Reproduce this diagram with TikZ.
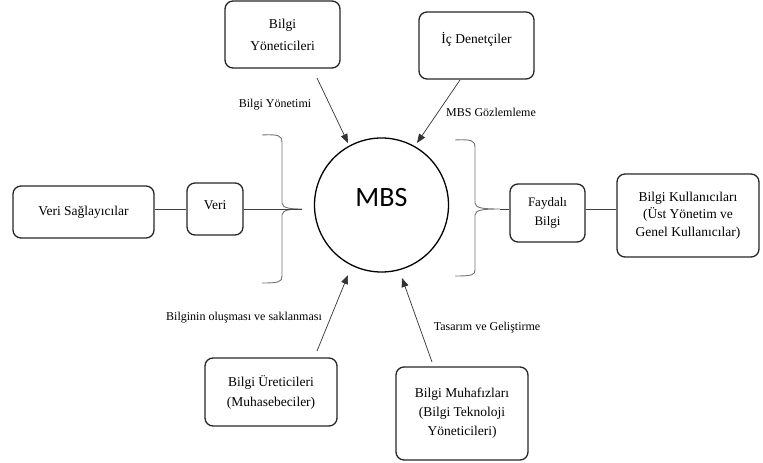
\documentclass[tikz,border=0pt]{standalone}
\usepackage{fontspec}
\setmainfont{Liberation Serif}
\newfontfamily\tnr{Liberation Serif}
\newfontfamily\mbsfont{Carlito}
\usetikzlibrary{arrows.meta}
\begin{document}
\begin{tikzpicture}[x=1pt,y=-1pt,
  box/.style={draw=black!85,line width=1.3pt,rounded corners=8pt,align=center,inner sep=0pt,
     font=\tnr\fontsize{13.5}{17}\selectfont},
  lbl/.style={font=\tnr\fontsize{12}{14}\selectfont,inner sep=0pt},
  arr/.style={line width=0.7pt,black!80,-{Triangle[length=9pt,width=7pt]}},
  brace/.style={line width=0.9pt,black!55},
  link/.style={line width=0.8pt,black!75}]
\useasboundingbox (0,0) rectangle (763,463);

% centre
\node[draw,circle,line width=1.3pt,minimum size=134pt,inner sep=0pt] (mbs) at (381.5,205) {};
\node[font=\mbsfont\fontsize{28}{30}\selectfont,inner sep=0pt] (mbst) at (381.5,197.5) {MBS};

% boxes
\node[box,minimum width=141pt,minimum height=52pt] (vs) at (83.5,212) {Veri Sağlayıcılar};
\node[box,minimum width=56pt,minimum height=52pt,text depth=8pt] (veri) at (215,209) {Veri};
\node[box,minimum width=75pt,minimum height=58pt,font=\tnr\fontsize{13}{19}\selectfont] (fb) at (547.5,213) {Faydalı\\Bilgi};
\node[box,minimum width=142pt,minimum height=83pt,font=\tnr\fontsize{13.5}{17.5}\selectfont] (bk) at (688,215.5) {Bilgi Kullanıcıları\\(Üst Yönetim ve\\Genel Kullanıcılar)};
\node[box,minimum width=115pt,minimum height=67pt,font=\tnr\fontsize{13.5}{22}\selectfont] (by) at (282.5,34.5) {Bilgi\\Yöneticileri};
\node[box,minimum width=115pt,minimum height=67pt,text depth=16pt] (id) at (476.5,45.5) {İç Denetçiler};
\node[box,minimum width=132pt,minimum height=68pt,font=\tnr\fontsize{13.5}{20}\selectfont] (bu) at (271,392) {Bilgi Üreticileri\\(Muhasebeciler)};
\node[box,minimum width=132pt,minimum height=93pt,font=\tnr\fontsize{13.5}{19}\selectfont] (bm) at (462,413.5) {Bilgi Muhafızları\\(Bilgi Teknoloji\\Yöneticileri)};

% braces
\coordinate (lbt) at (302,209);
\coordinate (rbt) at (500,209);
\draw[brace] (262,135) .. controls (279,134) and (282,136) .. (282,142) -- (282,203)
  .. controls (282,208.5) and (292,209) .. (lbt)
  .. controls (292,209) and (282,209.5) .. (282,215) -- (282,276)
  .. controls (282,282) and (279,283) .. (262,283);
\draw[brace] (455,140) .. controls (472,139) and (475,141) .. (475,147) -- (475,203)
  .. controls (475,208.5) and (485,209) .. (rbt)
  .. controls (485,209) and (475,209.5) .. (475,215) -- (475,270)
  .. controls (475,275) and (472,276) .. (455,276);

% links
\draw[link] (vs.east |- veri) -- (veri.west);
\draw[link] (veri.east) -- (lbt);
\draw[link] (rbt) -- (fb.west |- rbt);
\draw[link] (fb.east |- rbt) -- (bk.west |- rbt);

% arrows
\coordinate (a1s) at (317,78);  \coordinate (a1e) at (348,143);
\coordinate (a2s) at (460,80);  \coordinate (a2e) at (417,143);
\coordinate (a3s) at (317,351); \coordinate (a3e) at (348,275);
\coordinate (a4s) at (432,362); \coordinate (a4e) at (402,278);
\draw[arr] (a1s) -- (a1e);
\draw[arr] (a2s) -- (a2e);
\draw[arr] (a3s) -- (a3e);
\draw[arr] (a4s) -- (a4e);

% labels
\node[lbl] (l1) at (275,105) {Bilgi Yönetimi};
\node[lbl] (l2) at (491,112) {MBS Gözlemleme};
\node[lbl] (l3) at (244,318) {Bilginin oluşması ve saklanması};
\node[lbl] (l4) at (487,328) {Tasarım ve Geliştirme};
\end{tikzpicture}
\end{document}
